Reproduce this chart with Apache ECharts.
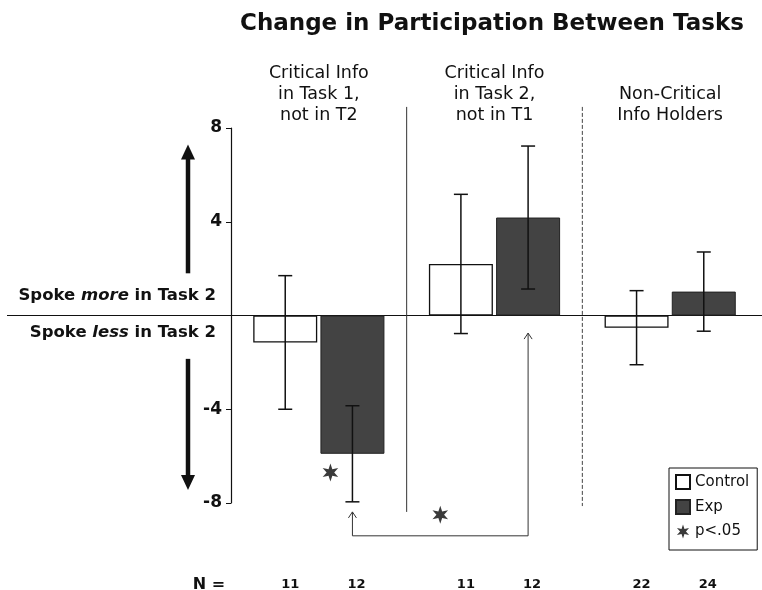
<!DOCTYPE html>
<html>
<head>
<meta charset="utf-8">
<script src="https://cdn.jsdelivr.net/npm/echarts@6/dist/echarts.min.js"></script>
<style>
html,body{margin:0;padding:0;background:#fff;}
#chart{width:762px;height:590px;}
</style>
</head>
<body>
<div id="chart"></div>
<script>
// ---------------- data ----------------
const groups = ['Critical Info\nin Task 1,\nnot in T2', 'Critical Info\nin Task 2,\nnot in T1', 'Non-Critical\nInfo Holders'];
const controlMeans = [-1.15, 2.2, -0.52];
const controlErr = [2.85, 2.97, 1.58];
const expMeans = [-5.9, 4.18, 1.02];
const expErr = [2.05, 3.05, 1.69];
const controlN = [11, 11, 22];
const expN = [12, 12, 24];
const yMin = -8, yMax = 8, yStep = 4;
const yHiddenLabels = [0];
// significance annotation (group index, value)
const bracketFrom = [0, -8.38];
const bracketTo = [1, -0.75];
const bracketBase = -9.4;
const starMarks = [[0, -6.7], [0.5, -8.5]];
// ---------------- style constants ----------------
const FONT = '"DejaVu Sans", Verdana, sans-serif';
const BAR_W = 64;
const BAR_OFF = 33.6; // half bar + half gap
const DARK = '#434343';

function starPts(cx, cy, R, r) {
  const pts = [];
  for (let i = 0; i < 12; i++) {
    const a = -Math.PI / 2 + i * Math.PI / 6;
    const rad = i % 2 === 0 ? R : r;
    pts.push([cx + rad * Math.cos(a), cy + rad * Math.sin(a)]);
  }
  return pts;
}
function starPath() {
  const p = starPts(10, 10, 10, 4.2);
  return 'path://M' + p.map(q => q[0].toFixed(2) + ',' + q[1].toFixed(2)).join('L') + 'Z';
}

const chart = echarts.init(document.getElementById('chart'), null, {renderer: 'canvas'});

function errRender(offset) {
  return function (params, api) {
    const c = api.value(0), m = api.value(1), e = api.value(2);
    const top = api.coord([c, m + e]);
    const bot = api.coord([c, m - e]);
    const x = top[0] + offset;
    const cap = 7;
    const st = {stroke: '#111', lineWidth: 1.5};
    return {type: 'group', children: [
      {type: 'line', shape: {x1: x, y1: top[1], x2: x, y2: bot[1]}, style: st},
      {type: 'line', shape: {x1: x - cap, y1: top[1], x2: x + cap, y2: top[1]}, style: st},
      {type: 'line', shape: {x1: x - cap, y1: bot[1], x2: x + cap, y2: bot[1]}, style: st}
    ]};
  };
}

const option = {
  animation: false,
  backgroundColor: '#fff',
  title: {
    text: 'Change in Participation Between Tasks',
    left: 235, top: 8,
    textStyle: {fontFamily: FONT, fontWeight: 'bold', fontSize: 23, color: '#111'}
  },
  legend: {
    orient: 'vertical',
    left: 669, top: 468,
    padding: [6, 8, 11, 6],
    itemGap: 9,
    itemWidth: 14, itemHeight: 14,
    borderColor: '#111', borderWidth: 1,
    backgroundColor: '#fff',
    textStyle: {fontFamily: FONT, fontSize: 15, color: '#111'},
    data: [
      {name: 'Control', icon: 'rect'},
      {name: 'Exp', icon: 'rect'},
      {name: 'p<.05', icon: starPath()}
    ]
  },
  grid: {left: 231, right: 4, top: 128, bottom: 87, containLabel: false},
  xAxis: {
    type: 'category',
    position: 'top',
    data: groups,
    axisLine: {show: false},
    axisTick: {show: false},
    axisLabel: {margin: 2, fontFamily: FONT, fontSize: 17.5, lineHeight: 21, color: '#111', align: 'center'},
    splitLine: {show: false}
  },
  yAxis: {
    type: 'value',
    min: yMin, max: yMax, interval: yStep,
    axisLine: {show: true, onZero: false, lineStyle: {color: '#111', width: 1.2}},
    axisTick: {show: true, length: 5, lineStyle: {color: '#111'}},
    axisLabel: {margin: 9, fontFamily: FONT, fontWeight: 'bold', fontSize: 17, color: '#111',
      formatter: v => (yHiddenLabels.indexOf(v) >= 0 ? '' : String(v))},
    splitLine: {show: false}
  },
  series: [
    {
      name: 'Control', type: 'bar', data: controlMeans,
      barWidth: BAR_W, barGap: '5%',
      itemStyle: {color: '#fff', borderColor: '#111', borderWidth: 1.3},
      z: 3
    },
    {
      name: 'Exp', type: 'bar', data: expMeans,
      barWidth: BAR_W,
      itemStyle: {color: DARK, borderColor: '#222', borderWidth: 1},
      z: 3
    },
    {
      name: 'ctrlErr', type: 'custom', clip: false, z: 5,
      data: controlMeans.map((m, i) => [i, m, controlErr[i]]),
      renderItem: errRender(-BAR_OFF)
    },
    {
      name: 'expErr', type: 'custom', clip: false, z: 5,
      data: expMeans.map((m, i) => [i, m, expErr[i]]),
      renderItem: errRender(BAR_OFF)
    },
    {
      // group separators, zero line, left arrows & side texts, N labels
      name: 'decor', type: 'custom', clip: false, z: 2, silent: true,
      data: [[0]],
      renderItem: function (params, api) {
        const cs = params.coordSys;
        const zeroY = api.coord([0, 0])[1];
        const c0 = api.coord([0, 0])[0], c1 = api.coord([1, 0])[0], c2 = api.coord([2, 0])[0];
        const sep1 = (c0 + c1) / 2, sep2 = (c1 + c2) / 2;
        const topY = api.coord([0, 8.9])[1];
        const children = [];
        children.push({type: 'line', shape: {x1: cs.x - 224, y1: zeroY, x2: api.getWidth(), y2: zeroY}, style: {stroke: '#111', lineWidth: 1.2}});
        children.push({type: 'line', shape: {x1: sep1, y1: topY, x2: sep1, y2: api.coord([0, -8.38])[1]}, style: {stroke: '#333', lineWidth: 1}});
        children.push({type: 'line', shape: {x1: sep2, y1: topY, x2: sep2, y2: api.coord([0, -8.13])[1]}, style: {stroke: '#444', lineWidth: 1, lineDash: [4, 2]}});
        // thick arrows
        const ax = cs.x - 43;
        const upA = api.coord([0, 1.8])[1], upB = api.coord([0, 7.3])[1];
        const dnA = api.coord([0, -1.85])[1], dnB = api.coord([0, -7.45])[1];
        children.push({type: 'line', shape: {x1: ax, y1: upA, x2: ax, y2: upB + 12}, style: {stroke: '#111', lineWidth: 4.5}});
        children.push({type: 'polygon', shape: {points: [[ax, upB], [ax - 7, upB + 15], [ax + 7, upB + 15]]}, style: {fill: '#111'}});
        children.push({type: 'line', shape: {x1: ax, y1: dnA, x2: ax, y2: dnB - 12}, style: {stroke: '#111', lineWidth: 4.5}});
        children.push({type: 'polygon', shape: {points: [[ax, dnB], [ax - 7, dnB - 15], [ax + 7, dnB - 15]]}, style: {fill: '#111'}});
        // side texts
        const rich = {b: {fontFamily: FONT, fontWeight: 'bold', fontSize: 16.5, fill: '#111'},
                      i: {fontFamily: FONT, fontWeight: 'bold', fontStyle: 'italic', fontSize: 16.5, fill: '#111'}};
        children.push({type: 'text', style: {
          x: cs.x - 15, y: zeroY - 20, align: 'right', verticalAlign: 'middle',
          text: '{b|Spoke }{i|more}{b| in Task 2}', rich: rich
        }});
        children.push({type: 'text', style: {
          x: cs.x - 15, y: zeroY + 17, align: 'right', verticalAlign: 'middle',
          text: '{b|Spoke }{i|less}{b| in Task 2}', rich: rich
        }});
        // N labels
        const nY = cs.y + cs.height + 82;
        children.push({type: 'text', style: {x: cs.x - 22, y: nY, align: 'center', verticalAlign: 'middle',
          text: 'N =', font: 'bold 16px ' + FONT, fill: '#111'}});
        [c0, c1, c2].forEach((cx, i) => {
          children.push({type: 'text', style: {x: cx - BAR_OFF + 5, y: nY, align: 'center', verticalAlign: 'middle',
            text: String(controlN[i]), font: 'bold 13px ' + FONT, fill: '#111'}});
          children.push({type: 'text', style: {x: cx + BAR_OFF + 4, y: nY, align: 'center', verticalAlign: 'middle',
            text: String(expN[i]), font: 'bold 13px ' + FONT, fill: '#111'}});
        });
        return {type: 'group', children: children};
      }
    },
    {
      // significance bracket and stars
      name: 'p<.05', type: 'custom', clip: false, z: 6,
      itemStyle: {color: '#3a3a3a'},
      data: [[0]],
      renderItem: function (params, api) {
        const children = [];
        const xA = api.coord([bracketFrom[0], 0])[0] + BAR_OFF;
        const xB = api.coord([bracketTo[0], 0])[0] + BAR_OFF;
        const yA = api.coord([0, bracketFrom[1]])[1];
        const yB = api.coord([0, bracketTo[1]])[1];
        const yBase = api.coord([0, bracketBase])[1];
        const st = {stroke: '#333', lineWidth: 1, fill: null};
        children.push({type: 'polyline', shape: {points: [[xA, yA], [xA, yBase], [xB, yBase], [xB, yB]]}, style: st});
        children.push({type: 'polyline', shape: {points: [[xA - 4, yA + 6], [xA, yA], [xA + 4, yA + 6]]}, style: st});
        children.push({type: 'polyline', shape: {points: [[xB - 4, yB + 6], [xB, yB], [xB + 4, yB + 6]]}, style: st});
        // stars
        const sx1 = xA - 22, sy1 = api.coord([0, starMarks[0][1]])[1];
        const sx2 = (xA + xB) / 2, sy2 = api.coord([0, starMarks[1][1]])[1];
        [[sx1, sy1], [sx2, sy2]].forEach(p => {
          children.push({type: 'polygon', shape: {points: starPts(p[0], p[1], 9, 3.8)}, style: {fill: '#3a3a3a'}});
        });
        return {type: 'group', children: children};
      }
    }
  ]
};
chart.setOption(option);
</script>
</body>
</html>
